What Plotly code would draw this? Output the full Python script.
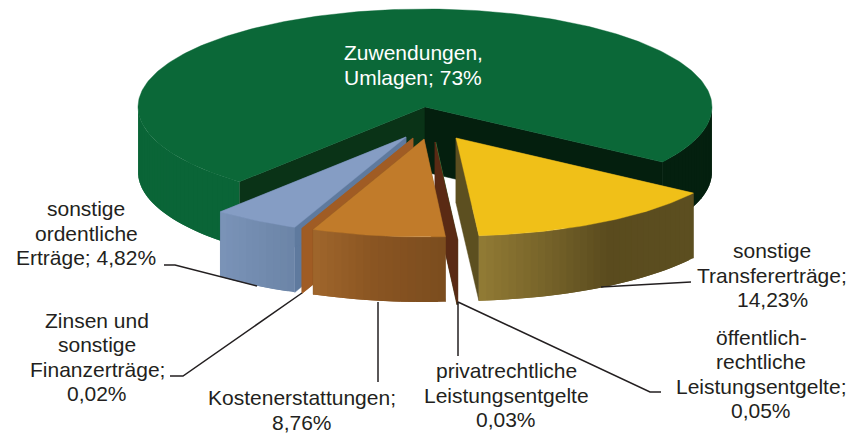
import math
import plotly.graph_objects as go

# ---- data -------------------------------------------------------------
label_lines = [
    ["Zuwendungen,", "Umlagen; 73%"],
    ["sonstige", "Transfererträge;", "14,23%"],
    ["öffentlich-", "rechtliche", "Leistungsentgelte;", "0,05%"],
    ["privatrechtliche", "Leistungsentgelte", "0,03%"],
    ["Kostenerstattungen;", "8,76%"],
    ["Zinsen und", "sonstige", "Finanzerträge;", "0,02%"],
    ["sonstige", "ordentliche", "Erträge; 4,82%"],
]
# slice shares as actually drawn in the picture (percent of the circle)
drawn_shares = [73.31, 14.23, 0.05, 0.03, 7.5, 0.02, 4.86]

# ---- style ------------------------------------------------------------
CX, CY, RX, RY, DEPTH = 425, 107, 287, 98, 65
START_T = 34.2
offsets = [(0, 0), (31, 31), (10, 35), (10.6, 35), (-1, 32), (-12, 31), (-19, 30)]
tops = ["#0b6838", "#f0c018", "#5a2a14", "#3f7f3f", "#c17b2a", "#a05c24", "#859dc4"]
radial_start = ["#0a3317", "#5c4f20", "#5a2a14", "#3f7f3f", "#7a4c1e", "#a05c24", "#5f7a9e"]
radial_end = ["#041f0e", "#5c4f20", "#5a2a14", "#3f7f3f", "#7a4c1e", "#a05c24", "#5f7a9e"]
wall_stops = [
    [(0, "#04200f"), (34, "#04200f"), (130, "#0a6537"), (180, "#0a6537"), (360, "#0a6537")],
    [(33, "#5c4f20"), (58, "#5a4b1e"), (86, "#937c35")],
    [(0, "#5a2a14"), (180, "#5a2a14")],
    [(0, "#3f7f3f"), (180, "#3f7f3f")],
    [(85, "#7a4c1e"), (100, "#8a5522"), (113, "#a0662c")],
    [(0, "#a05c24"), (180, "#a05c24")],
    [(112, "#6b84a6"), (130, "#7a93b8")],
]
draw_order = [0, 1, 6, 5, 3, 2, 4]
LINE_GAP = 24.6
LABEL_FONT = dict(family="Liberation Sans", size=21, color="#231f20")
label_pos = [(413, 65), (772, 275), (761, 374), (506, 395), (302, 410), (97, 357), (86, 233)]
leaders = [
    [(164, 265), (175, 265), (257, 286)],
    [(170, 376), (183, 376), (302, 293)],
    [(378, 302), (378, 382)],
    [(458, 302), (458, 356)],
    [(458, 302), (650, 392), (661, 392)],
    [(601, 287), (680, 282), (691, 282)],
]


def hex2rgb(h):
    return tuple(int(h[i:i + 2], 16) for i in (1, 3, 5))


def wall_color(stops, t):
    if t <= stops[0][0]:
        return stops[0][1]
    for (a, ca), (b, cb) in zip(stops, stops[1:]):
        if a <= t <= b:
            f = (t - a) / (b - a)
            r = [round(x + (y - x) * f) for x, y in zip(hex2rgb(ca), hex2rgb(cb))]
            return "rgb(%d,%d,%d)" % tuple(r)
    return stops[-1][1]


def ell(t, ox, oy, dz=0):
    a = math.radians(t)
    return CX + ox + RX * math.cos(a), CY + oy + RY * math.sin(a) + dz


fig = go.Figure()


def poly(pts, color, lw=0.0):
    fig.add_trace(go.Scatter(x=[p[0] for p in pts] + [pts[0][0]], y=[p[1] for p in pts] + [pts[0][1]],
                             mode="lines", fill="toself", fillcolor=color,
                             line=dict(color=color, width=lw), hoverinfo="skip", showlegend=False))


spans = {}
t = START_T
for i in [1, 2, 3, 4, 5, 6]:
    sweep = drawn_shares[i] * 3.6
    spans[i] = (t, t + sweep)
    t += sweep
spans[0] = (t, t + drawn_shares[0] * 3.6)

for i in draw_order:
    t0, t1 = spans[i]
    ox, oy = offsets[i]
    ax, ay = CX + ox, CY + oy
    for tt, col in ((t0, radial_start[i]), (t1, radial_end[i])):
        r = ell(tt, ox, oy)
        poly([(ax, ay), r, (r[0], r[1] + DEPTH), (ax, ay + DEPTH)], col, 0.5)
    ranges = [(t0, 180), (360, t1)] if i == 0 else [(t0, t1)]
    for a, b in ranges:
        if b - a <= 0.5:
            continue
        n = max(1, int((b - a) / 1.5))
        for k in range(n):
            s0 = a + (b - a) * k / n
            s1 = min(b, a + (b - a) * (k + 2) / n)  # overlaps the next strip so no seam shows
            key = a + (b - a) * (k + 0.5) / n
            key = key - 360 if key > 360 else key
            poly([ell(s0, ox, oy), ell(s1, ox, oy), ell(s1, ox, oy, DEPTH), ell(s0, ox, oy, DEPTH)],
                 wall_color(wall_stops[i], key))
    if t1 - t0 > 0.5:
        n = max(1, int(t1 - t0))
        arc = [ell(t0 + (t1 - t0) * k / n, ox, oy) for k in range(n + 1)]
        poly([(ax, ay)] + arc, tops[i], 0.4)

for seg in leaders:
    fig.add_trace(go.Scatter(x=[p[0] for p in seg], y=[p[1] for p in seg], mode="lines",
                             line=dict(color="#231f20", width=1.5), hoverinfo="skip", showlegend=False))

for i, lines in enumerate(label_lines):
    font = dict(LABEL_FONT)
    if i == 0:
        font["color"] = "#ffffff"
    x, y = label_pos[i]
    for j, line in enumerate(lines):
        fig.add_annotation(x=x, y=y + (j - (len(lines) - 1) / 2) * LINE_GAP, text=line, showarrow=False,
                           xanchor="center", yanchor="middle", align="center", font=font)

fig.update_layout(width=851, height=436, margin=dict(l=0, r=0, t=0, b=0),
                  paper_bgcolor="#ffffff", plot_bgcolor="#ffffff",
                  xaxis=dict(range=[0, 851], visible=False, fixedrange=True),
                  yaxis=dict(range=[436, 0], visible=False, fixedrange=True))
fig.write_html("out.html", config=dict(displayModeBar=False),
               post_script="document.body.style.margin='0';document.body.style.overflow='hidden';")
